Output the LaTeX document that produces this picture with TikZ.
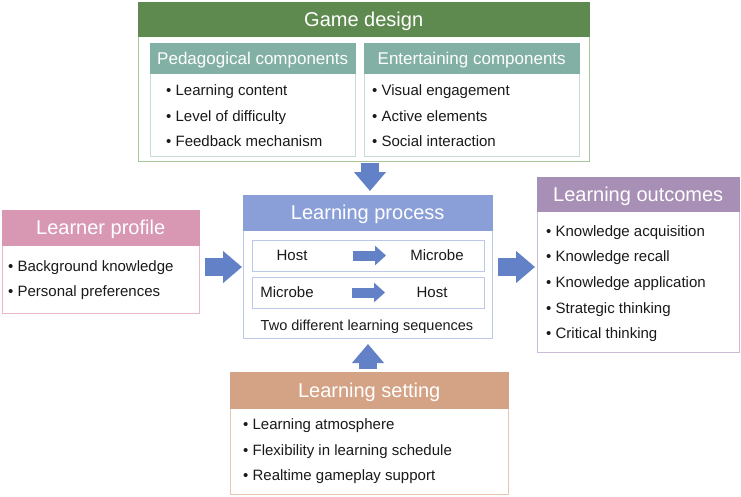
\documentclass[tikz,border=0pt]{standalone}
\usepackage{fontspec}
\setmainfont{Liberation Sans}
\usetikzlibrary{arrows.meta,calc}
\definecolor{gdhead}{HTML}{5F8A4F}
\definecolor{gdline}{HTML}{A9C79A}
\definecolor{tealhead}{HTML}{82B0A4}
\definecolor{tealline}{HTML}{C5DDD6}
\definecolor{pinkhead}{HTML}{D898B4}
\definecolor{pinkline}{HTML}{EAB8CE}
\definecolor{bluehead}{HTML}{8A9FD8}
\definecolor{blueline}{HTML}{BCC8EA}
\definecolor{purphead}{HTML}{A88FB5}
\definecolor{purpline}{HTML}{CDBBD5}
\definecolor{tanhead}{HTML}{D4A284}
\definecolor{tanline}{HTML}{EAC6B0}
\definecolor{arrowblue}{HTML}{6381C7}
\definecolor{txt}{HTML}{1A1A1A}
\begin{document}
\begin{tikzpicture}[x=1pt,y=-1pt,
  frame/.style={draw, line width=1pt, fill=white, anchor=north west, inner sep=0pt},
  head/.style={anchor=north west, inner sep=0pt, text=white},
  bighead/.style={head, font=\fontsize{20}{24}\selectfont, text height=14.5pt, text depth=0pt},
  subhead/.style={head, font=\fontsize{17}{20}\selectfont, text height=12.5pt, text depth=0pt},
  item/.style={anchor=base west, yshift=-5.3pt, inner sep=0pt, text=txt, font=\fontsize{15}{18}\selectfont},
  ctext/.style={anchor=base, yshift=-5.3pt, inner sep=0pt, text=txt, font=\fontsize{15}{18}\selectfont},
  bigarrow/.style={draw=arrowblue, line width=18pt, -{Triangle[length=19pt,width=31pt]}, arrowblue},
  smallarrow/.style={draw=arrowblue, line width=10pt, -{Triangle[length=11pt,width=19pt]}, arrowblue}
]
\useasboundingbox (0,0) rectangle (741,496);

% Game design
\node[frame, draw=gdline, minimum width=451, minimum height=159] (gd) at (138,2) {};
\node[bighead, fill=gdhead, minimum width=452, minimum height=35] (gdh) at (137.5,1.5) {Game design};

\node[frame, draw=tealline, minimum width=205, minimum height=113] (pc) at (150,43) {};
\node[subhead, fill=tealhead, minimum width=206, minimum height=31] (pch) at (149.5,42.5) {Pedagogical components};
\node[item] (pc1) at (166,90) {• Learning content};
\node[item] (pc2) at (166,116) {• Level of difficulty};
\node[item] (pc3) at (166,141) {• Feedback mechanism};

\node[frame, draw=tealline, minimum width=215, minimum height=113] (ec) at (364,43) {};
\node[subhead, fill=tealhead, minimum width=216, minimum height=31] (ech) at (363.5,42.5) {Entertaining components};
\node[item] (ec1) at (372,90) {• Visual engagement};
\node[item] (ec2) at (372,116) {• Active elements};
\node[item] (ec3) at (372,141) {• Social interaction};

% Learner profile
\node[frame, draw=pinkline, minimum width=197, minimum height=103] (lpr) at (2,210) {};
\node[bighead, fill=pinkhead, minimum width=198, minimum height=36] (lprh) at (1.5,209.5) {Learner profile};
\node[item] (lpr1) at (8,266) {• Background knowledge};
\node[item] (lpr2) at (8,291) {• Personal preferences};

% Learning process
\node[frame, draw=blueline, minimum width=249, minimum height=143] (lp) at (243,195) {};
\node[bighead, fill=bluehead, minimum width=250, minimum height=36] (lph) at (242.5,194.5) {Learning process};
\node[frame, draw=blueline, minimum width=232, minimum height=31] (r1) at (252,240) {};
\node[frame, draw=blueline, minimum width=232, minimum height=31] (r2) at (252,277) {};
\node[ctext] (h1) at (292,255.5) {Host};
\node[ctext] (m1) at (437,255.5) {Microbe};
\node[ctext] (m2) at (287,292.5) {Microbe};
\node[ctext] (h2) at (432,292.5) {Host};
\coordinate (a1s) at (353,255.5);
\coordinate (a1e) at (386,255.5);
\coordinate (a2s) at (352,292.5);
\coordinate (a2e) at (385,292.5);
\draw[smallarrow] (a1s) -- (a1e);
\draw[smallarrow] (a2s) -- (a2e);
\node[ctext, font=\fontsize{14.5}{17}\selectfont] (cap) at (367,325) {Two different learning sequences};

% Learning outcomes
\node[frame, draw=purpline, minimum width=202, minimum height=175] (lo) at (537,177) {};
\node[bighead, fill=purphead, minimum width=203, minimum height=35] (loh) at (536.5,176.5) {Learning outcomes};
\node[item] (lo1) at (546,231) {• Knowledge acquisition};
\node[item] (lo2) at (546,256) {• Knowledge recall};
\node[item] (lo3) at (546,282) {• Knowledge application};
\node[item] (lo4) at (546,308) {• Strategic thinking};
\node[item] (lo5) at (546,333) {• Critical thinking};

% Learning setting
\node[frame, draw=tanline, minimum width=278, minimum height=122] (ls) at (230,372) {};
\node[bighead, fill=tanhead, minimum width=279, minimum height=37] (lsh) at (229.5,371.5) {Learning setting};
\node[item] (ls1) at (243,424) {• Learning atmosphere};
\node[item] (ls2) at (243,450) {• Flexibility in learning schedule};
\node[item] (ls3) at (243,475) {• Realtime gameplay support};

% Big arrows
\coordinate (dtop) at (370,163);
\draw[bigarrow] (dtop) -- ([yshift=4pt]lp.north -| dtop);
\draw[bigarrow] ([xshift=5pt]lpr.east |- lp.center) -- ([xshift=-1pt]lp.west);
\draw[bigarrow] ([xshift=5pt]lp.east) -- ([xshift=-2pt]lo.west |- lp.east);
\draw[bigarrow] ([yshift=3pt]ls.north -| lp.south) -- ([yshift=-5pt]lp.south);
\end{tikzpicture}
\end{document}
